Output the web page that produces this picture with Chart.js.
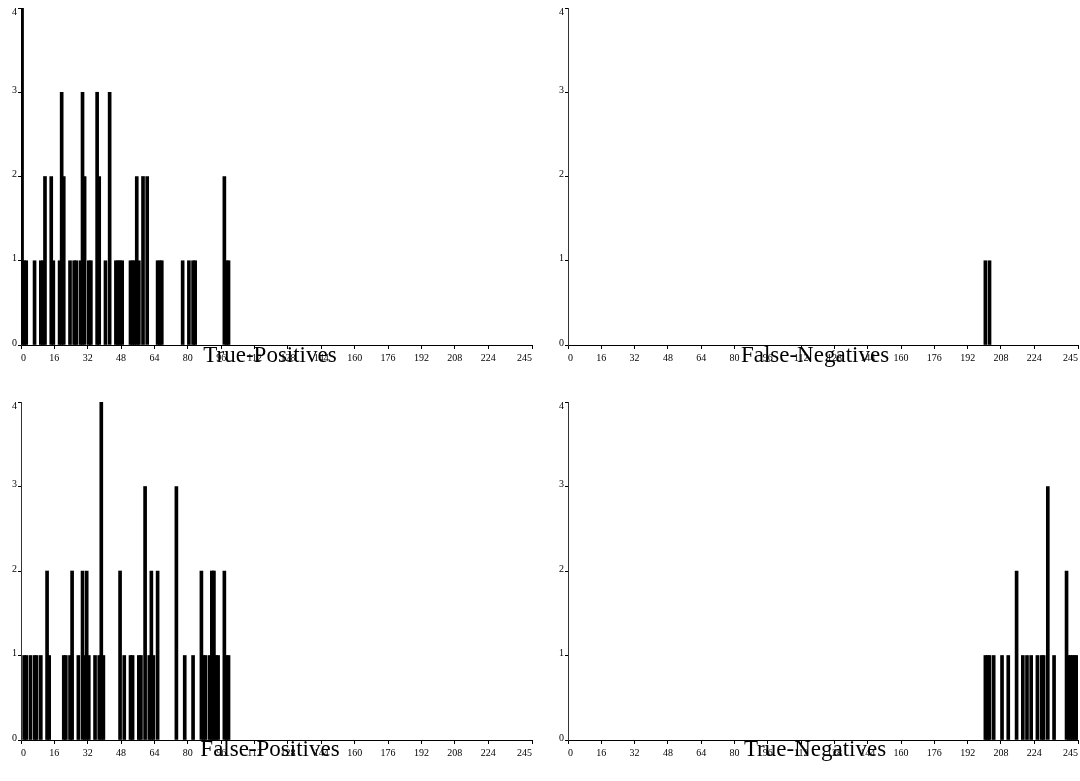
<!DOCTYPE html>
<html>
<head>
<meta charset="utf-8">
<title>Histograms</title>
<script src="https://cdn.jsdelivr.net/npm/chart.js@4/dist/chart.umd.min.js"></script>
<style>
  html, body { margin: 0; padding: 0; background: #fff; }
  #wrap { position: relative; width: 1080px; height: 781px; }
  .panel { position: absolute; }
</style>
</head>
<body>
<div id="wrap">
  <div class="panel" style="left:0;top:0;width:540px;height:390px"><canvas id="chart-tp"></canvas></div>
  <div class="panel" style="left:540px;top:0;width:540px;height:390px"><canvas id="chart-fn"></canvas></div>
  <div class="panel" style="left:0;top:390px;width:540px;height:391px"><canvas id="chart-fp"></canvas></div>
  <div class="panel" style="left:540px;top:390px;width:540px;height:391px"><canvas id="chart-tn"></canvas></div>
</div>
<script>
// tick labels shared by every panel
const xTickValues = [0, 16, 32, 48, 64, 80, 96, 112, 128, 144, 160, 176, 192, 208, 224, 245];
const yTickValues = [0, 1, 2, 3, 4];

// True-Positives (bin -> count)
const tpBins   = [0, 1, 2, 6, 9, 10, 11, 14, 15, 18, 19, 20, 23, 25, 26, 28, 29, 30, 32, 33, 36, 37, 40, 42, 45, 46, 47, 48, 52, 53, 54, 55, 56, 58, 60, 65, 66, 67, 77, 80, 82, 83, 97, 98, 99];
const tpCounts = [4, 1, 1, 1, 1, 1, 2, 2, 1, 1, 3, 2, 1, 1, 1, 1, 3, 2, 1, 1, 3, 2, 1, 3, 1, 1, 1, 1, 1, 1, 1, 2, 1, 2, 2, 1, 1, 1, 1, 1, 1, 1, 2, 1, 1];

// False-Negatives
const fnBins   = [200, 202];
const fnCounts = [1, 1];

// False-Positives
const fpBins   = [1, 2, 4, 6, 7, 9, 12, 13, 20, 21, 23, 24, 27, 29, 30, 31, 32, 35, 37, 38, 39, 47, 49, 52, 53, 56, 57, 59, 61, 62, 63, 65, 74, 78, 82, 86, 87, 88, 90, 91, 92, 93, 94, 97, 98, 99];
const fpCounts = [1, 1, 1, 1, 1, 1, 2, 1, 1, 1, 1, 2, 1, 2, 1, 2, 1, 1, 1, 4, 1, 2, 1, 1, 1, 1, 1, 3, 1, 2, 1, 2, 3, 1, 1, 2, 1, 1, 1, 2, 2, 1, 1, 2, 1, 1];

// True-Negatives
const tnBins   = [200, 201, 202, 204, 208, 211, 215, 218, 220, 222, 225, 227, 228, 230, 233, 239, 240, 241, 242, 243, 244];
const tnCounts = [1, 1, 1, 1, 1, 1, 2, 1, 1, 1, 1, 1, 1, 3, 1, 2, 1, 1, 1, 1, 1];

const serif = "'Liberation Serif', 'Times New Roman', Times, serif";

function buildPanel(canvasId, bins, counts, titleText, box) {
  const canvas = document.getElementById(canvasId);

  return new Chart(canvas, {
    type: "bar",
    data: {
      datasets: [{
        label: titleText,
        // each bin is one unit wide, bar sits in the middle of it
        data: bins.map((bin, i) => ({ x: bin + 0.5, y: counts[i] })),
        backgroundColor: "#000",
        borderWidth: 0,
        barThickness: 3,
        grouped: false
      }]
    },
    options: {
      responsive: true,
      maintainAspectRatio: false,
      animation: false,
      layout: { padding: { top: box.top, right: box.right, left: box.left, bottom: 0 } },
      plugins: {
        legend: { display: false },
        tooltip: { enabled: false },
        title: {
          display: true,
          position: "bottom",
          text: titleText,
          color: "#000",
          font: { family: serif, size: 23, weight: "normal" },
          padding: { top: box.titleTop, bottom: box.titleBottom }
        }
      },
      scales: {
        x: {
          type: "linear",
          min: 0,
          max: 245,
          offset: false,
          afterBuildTicks: scale => { scale.ticks = xTickValues.map(v => ({ value: v })); },
          afterFit: scale => { scale.height = 24; scale.paddingLeft = 0; scale.paddingRight = 0; },
          grid: { drawOnChartArea: false, drawTicks: true, tickLength: 4, color: "#000", offset: false },
          border: { display: true, color: "#000", width: 1 },
          ticks: {
            color: "#000",
            font: { family: serif, size: 10 },
            padding: 3,
            align: "inner",
            maxRotation: 0,
            autoSkip: false
          }
        },
        y: {
          min: 0,
          max: 4,
          afterBuildTicks: scale => { scale.ticks = yTickValues.map(v => ({ value: v })); },
          afterFit: scale => { scale.width = box.axisWidth; scale.paddingTop = 0; scale.paddingBottom = 0; },
          grid: { drawOnChartArea: false, drawTicks: true, tickLength: 3, color: "#000" },
          border: { display: true, color: "#333", width: 1 },
          ticks: {
            color: "#000",
            font: { family: serif, size: 10 },
            padding: 1,
            labelOffset: -2,
            // top label is pushed down inside the frame like in the source
            callback: value => value === 4 ? ["", "4"] : String(value)
          }
        }
      }
    }
  });
}

const topRow    = { top: 8,  titleTop: -26.8, titleBottom: 20.2 };
const bottomRow = { top: 12, titleTop: -27.8, titleBottom: 17.2 };
const leftCol   = { left: 8,  right: 8, axisWidth: 13 };
const rightCol  = { left: 12, right: 2, axisWidth: 16 };

buildPanel("chart-tp", tpBins, tpCounts, "True-Positives",  { ...topRow, ...leftCol });
buildPanel("chart-fn", fnBins, fnCounts, "False-Negatives", { ...topRow, ...rightCol });
buildPanel("chart-fp", fpBins, fpCounts, "False-Positives", { ...bottomRow, ...leftCol });
buildPanel("chart-tn", tnBins, tnCounts, "True-Negatives",  { ...bottomRow, ...rightCol });
</script>
</body>
</html>
